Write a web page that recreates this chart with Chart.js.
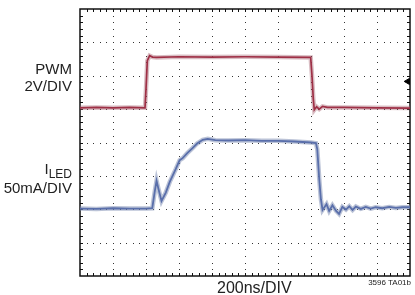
<!DOCTYPE html>
<html>
<head>
<meta charset="utf-8">
<script src="https://cdn.jsdelivr.net/npm/chart.js@4.4.1/dist/chart.umd.min.js"></script>
<style>
  body { margin: 0; background: #fff; }
  #wrap { position: relative; width: 415px; height: 295px; overflow: hidden; }
  .lbl { position: absolute; font-family: "Liberation Sans Narrow", "Arial Narrow", sans-serif; color: #222; text-align: right; white-space: nowrap; }
</style>
</head>
<body>
<div id="wrap">
  <canvas id="scope" width="415" height="295"></canvas>
  <div class="lbl" style="right:343px; top:60px; font-size:15px; line-height:17px;">PWM<br>2V/DIV</div>
  <div class="lbl" style="right:343px; top:160px; font-size:15px; line-height:17px;">I<span style="font-size:12px; position:relative; top:4px;">LED</span><br>50mA/DIV</div>
  <div class="lbl" style="left:217px; top:279px; font-size:16px; line-height:18px; text-align:left;">200ns/DIV</div>
  <div class="lbl" style="right:4px; top:278px; font-family:'Liberation Sans', sans-serif; font-size:8px; line-height:10px;">3596 TA01b</div>
</div>
<script>
// screen is 10 x 8 divisions, values below are in divisions
let pwmTime  = [0, 0.5, 1.0, 1.5, 1.97, 2.0, 2.04, 2.11, 2.2, 2.32, 3, 4, 5, 6, 6.99, 7.03, 7.07, 7.10, 7.17, 7.25, 7.35, 7.5, 8, 9, 10];
let pwmLevel = [5.04, 5.05, 5.04, 5.05, 5.04, 5.6, 6.45, 6.6, 6.56, 6.55, 6.57, 6.56, 6.57, 6.56, 6.55, 6.0, 5.3, 4.98, 5.07, 5.0, 5.08, 5.05, 5.05, 5.04, 5.03];

let ledTime  = [0, 0.5, 1, 1.5, 2.0, 2.19, 2.26, 2.32, 2.38, 2.47, 2.6, 2.72, 2.9, 3.02, 3.11, 3.25, 3.41, 3.55, 3.72, 3.87,
                4.1, 4.5, 5, 5.5, 6, 6.5, 7.0, 7.15, 7.19, 7.25, 7.30, 7.35, 7.47, 7.55, 7.65, 7.76, 7.85, 7.95, 8.06, 8.16,
                8.26, 8.36, 8.51, 8.66, 8.81, 8.96, 9.16, 9.37, 9.57, 9.77, 10];
let ledLevel = [2.02, 2.01, 2.03, 2.02, 2.02, 2.03, 2.5, 2.85, 2.6, 2.25, 2.5, 2.82, 3.2, 3.47, 3.53, 3.68, 3.83, 3.97, 4.08, 4.11,
                4.07, 4.06, 4.07, 4.05, 4.05, 4.03, 4.0, 3.98, 3.8, 2.9, 2.3, 1.98, 2.15, 1.95, 2.12, 1.95, 1.86, 2.07, 1.99, 2.09,
                1.98, 2.08, 2.01, 2.07, 2.02, 2.06, 2.03, 2.07, 2.04, 2.06, 2.06];

let trigTime  = [9.93];
let trigLevel = [5.83];

let divsX = 10, divsY = 8;

function pts(xs, ys) { return xs.map((x, i) => ({ x: x, y: ys[i] })); }

// dotted graticule, solid frame with small inward ticks every 1/5 division
let graticule = {
  id: 'graticule',
  beforeDatasetsDraw(chart) {
    let c = chart.ctx, a = chart.chartArea, sx = chart.scales.x, sy = chart.scales.y;
    c.save();
    c.fillStyle = '#333';
    for (let i = 1; i < divsX; i++) {
      let px = Math.round(sx.getPixelForValue(i));
      for (let k = 1; k < divsY * 5; k++) {
        c.fillRect(px, Math.round(sy.getPixelForValue(k / 5)), 1, 1);
      }
    }
    for (let j = 1; j < divsY; j++) {
      let py = Math.round(sy.getPixelForValue(j));
      for (let k = 1; k < divsX * 5; k++) {
        c.fillRect(Math.round(sx.getPixelForValue(k / 5)), py, 1, 1);
      }
    }
    c.strokeStyle = '#111';
    c.lineWidth = 1;
    c.beginPath();
    for (let k = 1; k < divsX * 5; k++) {
      let px = Math.round(sx.getPixelForValue(k / 5)) + 0.5;
      c.moveTo(px, a.top); c.lineTo(px, a.top + 3);
      c.moveTo(px, a.bottom); c.lineTo(px, a.bottom - 3);
    }
    for (let k = 1; k < divsY * 5; k++) {
      let py = Math.round(sy.getPixelForValue(k / 5)) + 0.5;
      c.moveTo(a.left, py); c.lineTo(a.left + 3, py);
      c.moveTo(a.right, py); c.lineTo(a.right - 3, py);
    }
    c.stroke();
    c.lineWidth = 1.5;
    c.strokeRect(a.left, a.top, a.right - a.left, a.bottom - a.top);
    c.restore();
  }
};

new Chart(document.getElementById('scope'), {
  type: 'line',
  data: {
    datasets: [
      { data: pts(pwmTime, pwmLevel), borderColor: 'rgba(160,90,105,0.4)', borderWidth: 4.5 },
      { data: pts(pwmTime, pwmLevel), borderColor: '#9e1530', borderWidth: 1.7 },
      { data: pts(ledTime, ledLevel), borderColor: 'rgba(120,135,175,0.5)', borderWidth: 4.5 },
      { data: pts(ledTime, ledLevel), borderColor: '#3c57a6', borderWidth: 1.8 },
      { data: pts(trigTime, trigLevel), showLine: false, pointStyle: 'triangle', rotation: -90,
        pointRadius: 3.5, backgroundColor: '#000', borderColor: '#000', clip: false }
    ]
  },
  options: {
    responsive: false,
    animation: false,
    events: [],
    layout: { padding: { left: 80, right: 4, top: 9, bottom: 19 } },
    elements: { line: { tension: 0 }, point: { radius: 0 } },
    plugins: { legend: { display: false }, tooltip: { enabled: false } },
    scales: {
      x: {
        type: 'linear', min: 0, max: divsX,
        ticks: { display: false, stepSize: 1 },
        grid: { color: 'rgba(0,0,0,0)', drawTicks: false },
        border: { display: false }
      },
      y: {
        type: 'linear', min: 0, max: divsY,
        ticks: { display: false, stepSize: 1 },
        grid: { color: 'rgba(0,0,0,0)', drawTicks: false },
        border: { display: false }
      }
    }
  },
  plugins: [graticule]
});
</script>
</body>
</html>
